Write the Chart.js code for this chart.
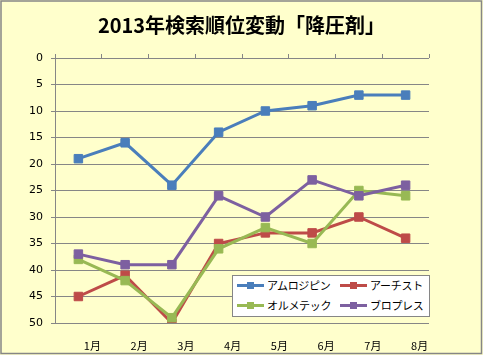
<!DOCTYPE html>
<html><head><meta charset="utf-8">
<script src="https://cdn.jsdelivr.net/npm/chart.js@4/dist/chart.umd.min.js"></script>
<style>
html,body{margin:0;padding:0;background:#FFFFCC;}
#wrap{position:relative;width:483px;height:355px;}
#legend{position:absolute;left:232px;top:275px;width:196px;height:40px;background:#fff;border:1px solid #868686;font-family:"Noto Sans CJK JP",sans-serif;font-size:11px;letter-spacing:-0.3px;color:#000;}
.item{position:absolute;height:14px;line-height:14px;white-space:nowrap;}
.sw{position:absolute;left:0;top:6px;width:27px;height:3px;}
.mk{position:absolute;left:10px;top:-2px;width:7px;height:7px;}
.tx{position:absolute;left:30px;top:0;}
</style>
</head><body>
<div id="wrap"><canvas id="c" width="483" height="355"></canvas><div id="legend"></div></div>
<script>
const titleText = "2013年検索順位変動「降圧剤」";
const categories = ["1月","2月","3月","4月","5月","6月","7月","8月"];
const seriesNames = ["アムロジピン","アーチスト","オルメテック","ブロプレス"];
const amlodipine = [19,16,24,14,10,9,7,7];
const artist = [45,41,50,35,33,33,30,34];
const olmetec = [38,42,49,36,32,35,25,26];
const blopress = [37,39,39,26,30,23,26,24];
const seriesColors = ["#4A7EBB","#BE4B48","#98B954","#7D60A0"];
const yMin = 0, yMax = 50, yStep = 5;

const seriesData = [amlodipine, artist, olmetec, blopress];
const datasets = seriesNames.map((n,i)=>({
  label:n, data:seriesData[i], borderColor:seriesColors[i], backgroundColor:seriesColors[i],
  borderWidth:3, pointStyle:'rect', pointRadius:6, pointBorderWidth:1,
  pointBorderColor:seriesColors[i], pointBackgroundColor:seriesColors[i],
  tension:0, order:3-i
}));

const bgPlugin = {
  id:'bg',
  beforeDraw(chart){
    const ctx = chart.ctx;
    ctx.save();
    ctx.fillStyle = '#FFFFCC';
    ctx.fillRect(0,0,chart.width,chart.height);
    ctx.strokeStyle = '#868686';
    ctx.lineWidth = 1.5;
    ctx.strokeRect(1,1,chart.width-2.5,chart.height-2.5);
    ctx.restore();
  }
};

const chart = new Chart(document.getElementById('c'), {
  type:'line',
  data:{labels:categories, datasets},
  options:{
    responsive:false, animation:false,
    layout:{padding:0},
    plugins:{
      legend:{display:false}, tooltip:{enabled:false},
      title:{display:true, text:titleText, color:'#000',
        font:{family:'"Noto Sans CJK JP"', size:20, weight:'bold', lineHeight:1.2},
        padding:{top:13,bottom:21}}
    },
    scales:{
      x:{type:'category', position:'bottom', offset:true,
        grid:{display:false}, border:{display:false},
        ticks:{color:'#000', font:{family:'"Noto Sans CJK JP"', size:11}, padding:8, labelOffset:14, maxRotation:0, autoSkip:false},
        afterFit(s){ s.height = 32; }
      },
      x2:{type:'category', position:'top', offset:true, labels:categories,
        grid:{offset:true, drawOnChartArea:false, drawTicks:true, tickLength:4, color:'#868686', lineWidth:1},
        border:{display:false},
        ticks:{display:false},
        afterFit(s){ s.height = 0; }
      },
      y:{reverse:true, min:yMin, max:yMax,
        ticks:{stepSize:yStep, color:'#000', font:{family:'"DejaVu Sans"', size:11}, padding:8},
        grid:{color:'#868686', lineWidth:1, tickLength:4, drawTicks:true},
        border:{display:true, color:'#868686', width:1},
        afterFit(s){ s.width = 55; }
      },
      yR:{position:'right', reverse:true, min:yMin, max:yMax,
        ticks:{display:false}, grid:{display:false}, border:{display:false},
        afterFit(s){ s.width = 54; }
      }
    }
  },
  plugins:[bgPlugin]
});

// HTML legend built from the chart datasets
const legendEl = document.getElementById('legend');
const pos = [[4,2],[107,2],[4,22],[107,22]];
chart.data.datasets.forEach((ds,i)=>{
  const it = document.createElement('div');
  it.className='item';
  it.style.left = pos[i][0]+'px';
  it.style.top = pos[i][1]+'px';
  it.innerHTML = '<div class="sw" style="background:'+ds.borderColor+'"><div class="mk" style="background:'+ds.borderColor+'"></div></div><span class="tx"></span>';
  it.querySelector('.tx').textContent = ds.label;
  legendEl.appendChild(it);
});
</script>
</body></html>
